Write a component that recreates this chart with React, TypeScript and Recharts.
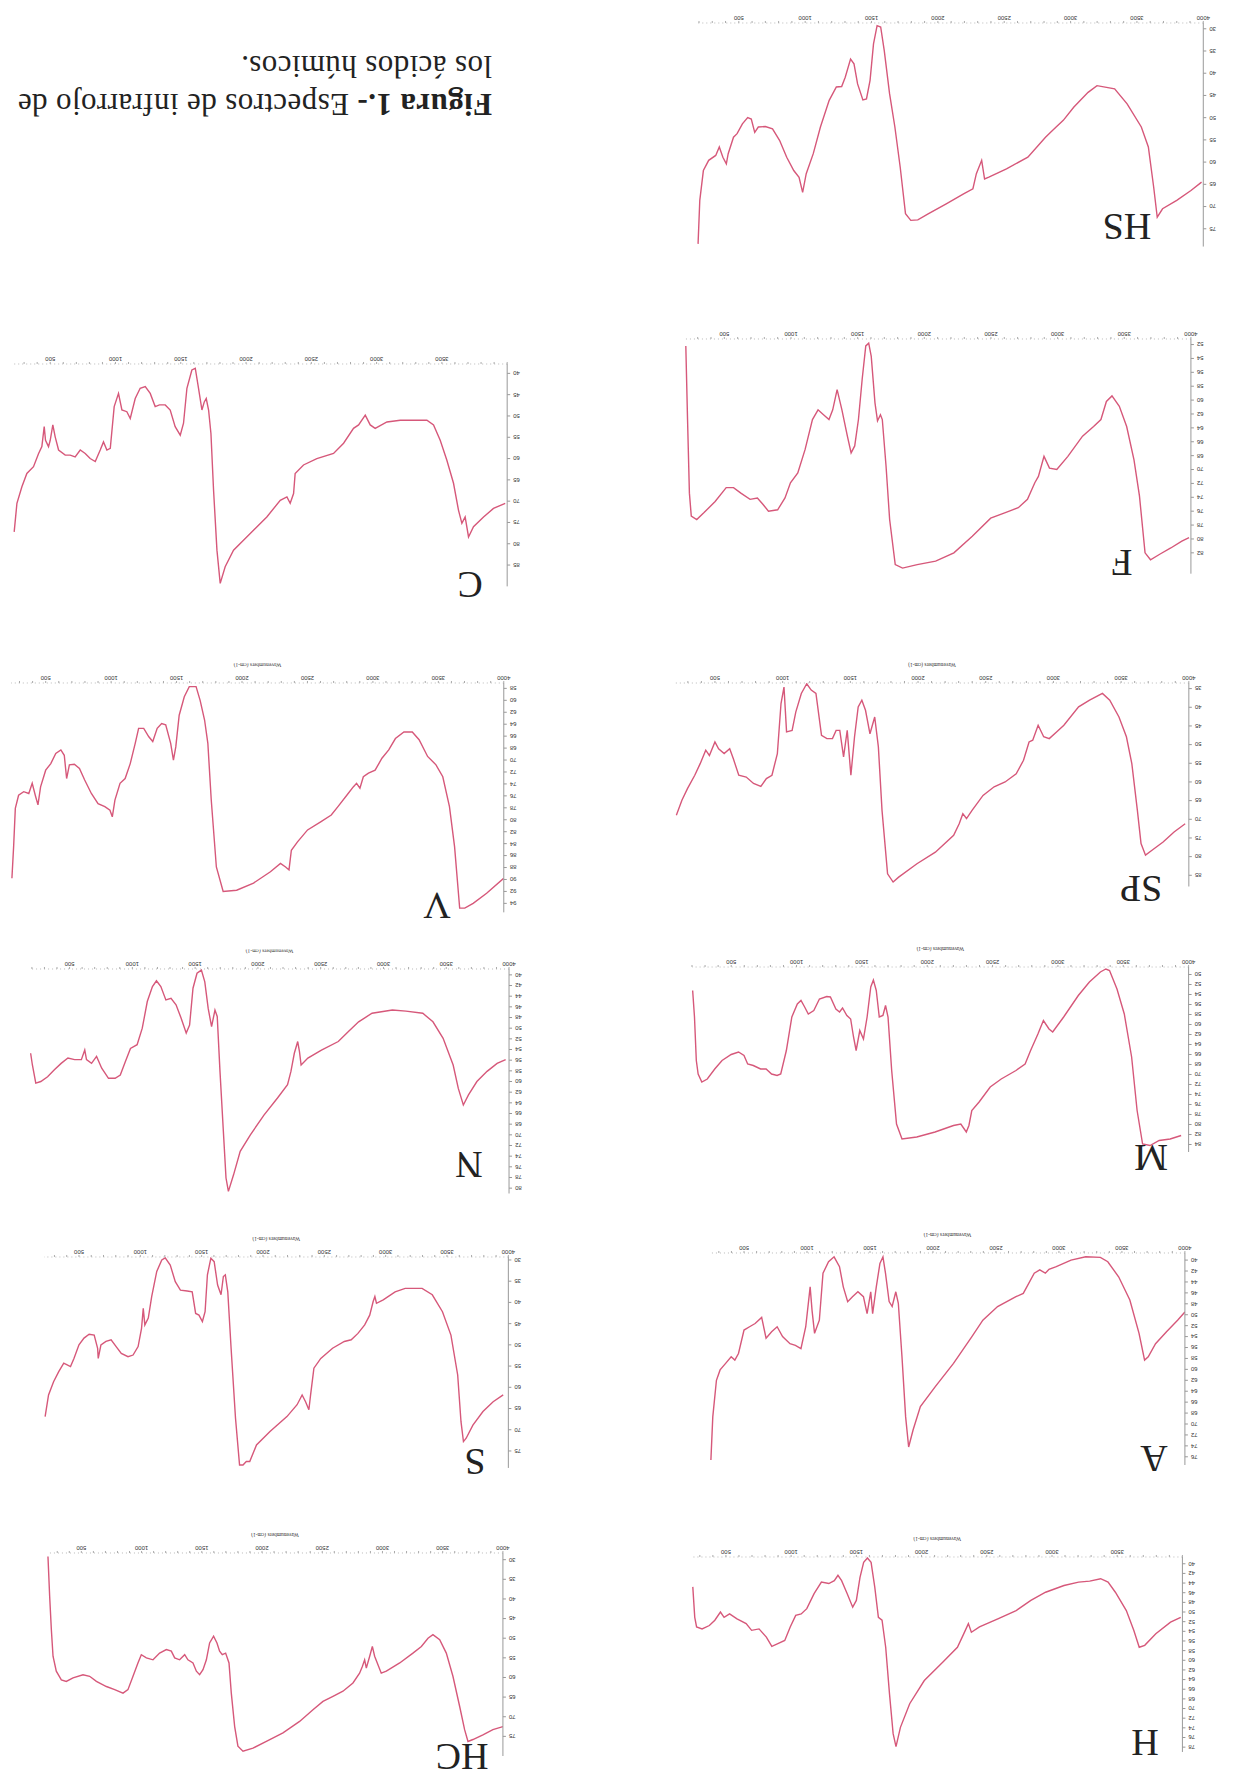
import React from 'react';
import { LineChart, Line, XAxis, YAxis } from 'recharts';

// IR spectra of humic acids (the scanned page is upside down, so every panel is rotated 180deg)
const RED = '#d6587a';

const xLabelTicks = [500, 1000, 1500, 2000, 2500, 3000, 3500, 4000];
const xLabelTicksShort = [500, 1000, 1500, 2000, 2500, 3000, 3500];

const yTicksHS = [30, 35, 40, 45, 50, 55, 60, 65, 70, 75];
const yTicksF = [52, 54, 56, 58, 60, 62, 64, 66, 68, 70, 72, 74, 76, 78, 80, 82];
const yTicksSP = [35, 40, 45, 50, 55, 60, 65, 70, 75, 80, 85];
const yTicksM = [50, 52, 54, 56, 58, 60, 62, 64, 66, 68, 70, 72, 74, 76, 78, 80, 82, 84];
const yTicksA = [40, 42, 44, 46, 48, 50, 52, 54, 56, 58, 60, 62, 64, 66, 68, 70, 72, 74, 76];
const yTicksH = [40, 42, 44, 46, 48, 50, 52, 54, 56, 58, 60, 62, 64, 66, 68, 70, 72, 74, 76, 78];
const yTicksC = [40, 45, 50, 55, 60, 65, 70, 75, 80, 85];
const yTicksV = [58, 60, 62, 64, 66, 68, 70, 72, 74, 76, 78, 80, 82, 84, 86, 88, 90, 92, 94];
const yTicksN = [40, 42, 44, 46, 48, 50, 52, 54, 56, 58, 60, 62, 64, 66, 68, 70, 72, 74, 76, 78, 80];
const yTicksS = [30, 35, 40, 45, 50, 55, 60, 65, 70, 75];
const yTicksHC = [30, 35, 40, 45, 50, 55, 60, 65, 70, 75];

// [wavenumber cm-1, transmittance %]
const HS = [[193,78.4],[206,68.6],[233,61.9],[273,59.6],[326,58.5],[353,56.6],[380,58.9],[406,60.4],[420,58.1],[460,54.4],[487,53.6],[527,51.4],[567,50.0],[594,50.3],[620,53.3],[647,52.1],[700,52.0],[754,52.5],[807,55.1],[861,58.9],[914,61.9],[954,63.4],[981,66.8],[1008,62.6],[1061,58.1],[1115,52.1],[1181,46.1],[1235,43.1],[1275,43.0],[1302,40.9],[1342,36.8],[1368,37.9],[1395,42.4],[1435,46.0],[1462,45.8],[1489,41.6],[1515,33.4],[1542,29.3],[1569,29.6],[1596,34.9],[1636,44.6],[1676,52.1],[1716,61.1],[1756,71.6],[1796,73.1],[1849,73.0],[1930,71.6],[2063,69.4],[2197,67.1],[2264,66.0],[2290,62.6],[2330,59.6],[2352,63.8],[2384,63.4],[2517,61.5],[2678,58.9],[2811,54.4],[2838,53.6],[2891,52.1],[2945,50.6],[3025,47.6],[3132,44.3],[3199,42.8],[3332,43.5],[3426,46.9],[3533,52.1],[3586,56.6],[3626,65.6],[3653,72.4],[3693,70.5],[3800,68.6],[3907,66.4],[3987,64.5]];

const F = [[211,52.2],[224,62.8],[238,73.4],[252,76.7],[293,77.2],[348,76.2],[431,74.6],[514,72.6],[569,72.6],[624,73.4],[693,74.3],[748,74.1],[789,75.0],[831,76.0],[900,75.8],[955,74.1],[996,71.9],[1051,70.5],[1106,67.1],[1161,62.8],[1203,61.4],[1244,62.1],[1285,62.8],[1313,61.4],[1346,58.5],[1382,61.4],[1423,65.2],[1451,67.6],[1478,66.6],[1506,62.8],[1534,57.0],[1561,52.2],[1583,51.8],[1602,53.7],[1630,60.4],[1649,63.0],[1671,62.1],[1685,62.8],[1713,69.5],[1740,77.2],[1782,83.7],[1837,84.2],[1947,83.7],[2085,83.2],[2222,82.0],[2360,79.6],[2498,77.0],[2608,76.2],[2705,75.5],[2774,74.3],[2829,71.9],[2856,71.0],[2898,68.1],[2939,69.8],[2994,70.0],[3077,68.1],[3187,65.2],[3270,63.8],[3325,62.8],[3366,60.2],[3408,59.4],[3463,60.9],[3518,63.8],[3573,68.6],[3614,73.8],[3656,82.0],[3697,83.0],[3766,82.2],[3849,81.3],[3932,80.3],[3986,79.8]];

const SP = [[215,68.9],[256,64.9],[297,61.8],[351,58.2],[391,55.1],[432,51.5],[459,52.9],[500,49.3],[527,51.1],[568,52.4],[609,51.1],[636,53.8],[676,58.2],[731,58.7],[785,60.4],[839,61.2],[880,59.1],[921,58.2],[961,52.4],[988,39.0],[1010,34.6],[1029,46.6],[1070,46.2],[1097,41.3],[1138,36.3],[1178,33.7],[1211,35.4],[1246,36.3],[1287,47.5],[1327,48.4],[1368,48.4],[1395,46.2],[1422,46.2],[1450,53.3],[1477,46.2],[1504,58.2],[1531,47.9],[1558,39.9],[1585,38.1],[1612,40.8],[1645,47.1],[1680,42.6],[1707,50.6],[1734,67.6],[1775,84.6],[1816,86.8],[1857,85.5],[1992,81.9],[2128,78.8],[2263,74.3],[2304,71.2],[2331,68.5],[2358,69.8],[2399,67.6],[2480,63.6],[2562,61.3],[2643,60.0],[2725,57.8],[2779,54.2],[2820,49.3],[2847,48.8],[2887,44.8],[2928,47.9],[2969,48.4],[3023,46.6],[3077,44.8],[3186,39.9],[3267,38.1],[3362,36.3],[3416,38.1],[3484,42.6],[3539,47.9],[3579,55.1],[3620,67.6],[3647,76.5],[3680,79.6],[3728,78.3],[3810,76.1],[3891,73.4],[3973,71.2]];

const M = [[205,53.2],[219,58.5],[233,67.2],[247,69.9],[275,71.5],[317,70.9],[374,68.9],[430,67.2],[500,66.0],[556,65.5],[598,66.2],[626,67.9],[669,68.2],[725,68.9],[767,68.9],[809,69.9],[851,70.2],[879,69.9],[922,65.2],[964,58.5],[1006,55.9],[1034,55.2],[1062,56.5],[1090,57.9],[1132,57.2],[1175,54.9],[1231,54.4],[1259,54.5],[1301,56.9],[1329,57.5],[1352,56.7],[1385,58.2],[1414,58.9],[1436,62.5],[1456,65.2],[1484,61.2],[1512,62.9],[1540,58.5],[1568,52.5],[1588,51.1],[1610,53.2],[1633,58.5],[1661,58.2],[1681,56.2],[1700,58.5],[1728,69.2],[1765,79.9],[1807,82.9],[1920,82.5],[2060,81.5],[2201,80.2],[2257,79.9],[2299,81.5],[2319,80.2],[2341,77.2],[2397,75.5],[2482,72.5],[2566,70.9],[2679,69.2],[2749,67.9],[2791,65.2],[2847,61.9],[2889,59.2],[2932,60.9],[2960,61.5],[3044,58.5],[3156,54.2],[3241,51.5],[3325,49.5],[3367,48.9],[3395,49.2],[3452,52.9],[3508,57.9],[3564,66.5],[3606,77.2],[3648,83.9],[3705,84.2],[3775,83.2],[3859,82.9],[3943,82.2]];

const A = [[237,76.6],[252,68.7],[281,62.0],[310,60.1],[354,58.9],[398,57.7],[427,58.3],[456,57.1],[500,52.8],[544,52.2],[588,51.6],[640,50.5],[675,54.3],[719,53.1],[763,52.2],[806,54.0],[865,55.3],[908,55.6],[952,56.2],[990,52.2],[1025,44.9],[1040,49.2],[1060,53.4],[1098,51.0],[1127,42.4],[1171,40.3],[1215,39.4],[1258,41.2],[1288,44.9],[1323,47.6],[1361,46.7],[1404,45.8],[1448,46.7],[1477,49.8],[1506,45.8],[1521,49.8],[1550,44.9],[1579,40.6],[1603,39.4],[1623,42.4],[1652,47.6],[1676,48.5],[1705,45.8],[1725,47.9],[1754,57.7],[1783,68.7],[1807,74.2],[1842,71.1],[1900,66.8],[2017,63.2],[2163,58.9],[2309,54.0],[2396,51.0],[2513,48.5],[2659,46.7],[2717,46.1],[2804,42.4],[2848,41.8],[2892,42.4],[2921,41.7],[2979,41.2],[3096,40.0],[3213,39.4],[3329,39.5],[3388,40.3],[3475,43.1],[3563,47.3],[3636,53.4],[3680,58.3],[3709,57.7],[3767,55.3],[3854,53.1],[3942,51.0],[4000,49.5]];

const H = [[246,44.8],[261,51.1],[275,53.1],[317,53.5],[373,52.8],[415,51.7],[458,50.0],[486,51.1],[528,50.4],[585,51.4],[655,52.4],[697,53.8],[754,53.5],[810,55.2],[852,57.1],[894,56.6],[951,55.9],[993,53.1],[1035,50.7],[1077,50.4],[1120,49.3],[1176,46.2],[1232,43.8],[1289,44.1],[1331,43.5],[1359,42.4],[1387,43.5],[1430,46.2],[1472,49.0],[1500,47.6],[1528,42.8],[1556,39.7],[1585,38.8],[1613,39.7],[1641,44.8],[1669,51.1],[1697,51.7],[1725,57.3],[1754,66.9],[1782,75.2],[1804,77.9],[1838,73.9],[1909,69.0],[2021,64.2],[2162,60.4],[2275,57.3],[2317,54.9],[2359,52.4],[2382,54.2],[2444,53.1],[2585,51.4],[2725,49.7],[2838,47.6],[2951,45.9],[3092,44.5],[3204,43.8],[3289,43.6],[3373,43.1],[3430,43.8],[3486,45.9],[3570,49.7],[3627,53.8],[3669,57.3],[3711,56.9],[3796,54.5],[3909,52.1],[3987,51.1]];

const C = [[224,77.2],[245,70.5],[283,66.6],[321,63.5],[372,61.9],[411,58.8],[436,57.2],[454,52.5],[464,55.7],[487,57.2],[500,55.7],[520,52.1],[538,54.9],[564,58.0],[615,59.2],[653,59.2],[691,59.6],[730,58.0],[768,58.8],[806,60.0],[845,60.7],[883,58.0],[908,56.1],[934,58.0],[960,57.6],[990,47.8],[1023,44.7],[1049,48.6],[1087,49.0],[1113,50.6],[1151,45.9],[1189,43.5],[1228,43.1],[1266,44.7],[1304,47.8],[1337,47.4],[1381,47.4],[1419,48.6],[1457,52.5],[1496,54.5],[1521,51.7],[1547,43.5],[1585,39.2],[1611,38.8],[1636,43.5],[1662,48.6],[1680,46.7],[1695,45.9],[1713,48.6],[1731,54.1],[1751,67.4],[1777,81.5],[1802,89.3],[1840,85.4],[1904,81.5],[2032,77.6],[2159,73.7],[2262,69.8],[2313,69.0],[2338,70.5],[2364,68.2],[2376,63.5],[2440,61.5],[2542,60.0],[2670,58.8],[2747,56.4],[2823,52.9],[2862,52.1],[2913,49.8],[2951,52.1],[2989,52.9],[3079,51.4],[3181,51.0],[3308,51.0],[3385,51.0],[3436,52.1],[3487,55.7],[3538,60.4],[3589,65.8],[3627,72.1],[3653,75.2],[3678,73.7],[3704,78.4],[3742,76.0],[3819,73.7],[3895,71.7],[3985,70.5]];

const V = [[242,89.8],[255,84.5],[268,78.1],[293,75.9],[332,75.3],[371,75.6],[397,73.9],[423,76.1],[441,77.5],[461,74.5],[500,71.7],[539,70.6],[577,68.9],[616,68.3],[642,69.2],[660,73.1],[681,70.8],[719,70.7],[758,71.4],[797,73.3],[849,75.6],[900,77.3],[952,77.8],[991,78.4],[1009,79.5],[1029,76.7],[1068,73.9],[1107,73.1],[1146,70.6],[1184,67.2],[1210,64.7],[1249,64.7],[1288,66.1],[1318,66.9],[1352,64.7],[1386,63.9],[1417,64.1],[1455,67.2],[1476,70.0],[1494,67.8],[1520,62.5],[1559,59.4],[1597,57.7],[1649,57.7],[1680,60.0],[1714,63.3],[1739,67.2],[1765,76.7],[1804,87.9],[1856,92.0],[1959,91.8],[2088,90.6],[2217,88.7],[2294,87.3],[2333,87.9],[2359,88.4],[2377,85.1],[2424,83.7],[2501,81.7],[2604,80.3],[2682,79.2],[2733,77.8],[2811,75.6],[2850,74.5],[2875,73.9],[2901,74.7],[2927,72.8],[2966,72.2],[3017,71.7],[3069,69.7],[3121,68.3],[3172,66.4],[3237,65.3],[3301,65.3],[3353,66.6],[3418,69.4],[3482,70.8],[3534,72.8],[3585,77.8],[3624,84.5],[3663,94.8],[3702,94.8],[3766,94.0],[3869,92.3],[3999,89.8]];

const N = [[190,54.7],[204,56.9],[231,60.3],[271,60.0],[325,59.1],[379,57.8],[433,56.6],[487,55.6],[540,55.9],[594,55.9],[621,54.1],[635,55.9],[675,56.6],[715,55.3],[756,57.5],[810,59.4],[863,59.4],[904,58.8],[944,56.3],[985,53.8],[1038,53.1],[1079,50.0],[1119,45.0],[1160,42.2],[1192,41.1],[1227,42.2],[1267,44.7],[1308,44.4],[1348,45.6],[1388,48.1],[1429,50.9],[1456,49.4],[1483,42.5],[1515,39.7],[1550,39.1],[1577,41.3],[1604,46.3],[1631,49.7],[1658,46.6],[1676,47.8],[1698,58.1],[1725,69.4],[1746,78.1],[1765,80.6],[1806,77.5],[1859,73.1],[1940,70.0],[2048,66.3],[2156,63.1],[2236,60.6],[2263,58.1],[2290,54.7],[2317,52.5],[2331,54.4],[2344,56.9],[2398,55.6],[2506,54.1],[2640,52.5],[2721,50.6],[2802,48.8],[2909,47.2],[3071,46.6],[3179,46.8],[3313,47.2],[3394,48.8],[3475,51.9],[3555,56.9],[3596,61.3],[3636,64.4],[3677,62.5],[3744,60.0],[3825,58.1],[3905,56.6],[3973,55.9]];

const S = [[224,66.9],[252,61.8],[293,58.7],[335,56.3],[376,54.3],[404,54.7],[431,55.1],[459,53.2],[500,50.0],[541,48.4],[583,47.5],[624,47.7],[652,50.8],[657,53.2],[679,50.0],[720,49.2],[762,48.8],[803,50.4],[845,52.0],[900,52.8],[941,52.4],[982,50.4],[1010,46.1],[1024,41.4],[1037,45.3],[1065,43.7],[1093,38.6],[1134,32.7],[1175,30.0],[1203,29.5],[1244,31.2],[1285,35.1],[1327,37.1],[1382,37.3],[1423,37.5],[1451,42.6],[1478,43.0],[1506,44.5],[1528,42.2],[1547,33.5],[1575,29.6],[1602,30.4],[1630,35.9],[1658,38.2],[1677,33.9],[1693,33.5],[1713,37.5],[1740,50.8],[1776,67.3],[1809,78.3],[1837,78.3],[1864,77.5],[1892,77.5],[1947,73.6],[2057,70.4],[2195,66.9],[2278,64.1],[2319,61.8],[2347,63.4],[2374,65.3],[2388,61.8],[2415,55.5],[2471,53.2],[2567,50.8],[2663,49.2],[2719,48.8],[2774,47.3],[2829,45.3],[2870,43.0],[2898,39.8],[2912,38.6],[2925,40.2],[2980,39.4],[3077,37.5],[3159,36.7],[3297,36.7],[3380,38.2],[3463,42.2],[3532,47.7],[3587,57.1],[3614,68.1],[3634,72.8],[3656,72.0],[3711,68.9],[3793,65.7],[3876,63.4],[3958,61.8]];

const HC = [[223,29.2],[237,39.3],[251,47.8],[265,54.6],[292,58.4],[334,60.6],[375,61.0],[431,60.1],[514,59.3],[569,59.7],[625,61.0],[708,62.3],[777,63.1],[846,64.0],[887,63.1],[929,59.7],[970,56.3],[998,54.2],[1040,55.0],[1095,55.5],[1150,53.8],[1206,52.9],[1247,53.3],[1275,55.0],[1316,55.5],[1358,54.2],[1385,55.5],[1427,56.3],[1455,58.4],[1482,59.3],[1510,58.0],[1538,55.5],[1565,51.2],[1598,49.5],[1626,51.2],[1648,53.3],[1670,54.2],[1698,53.8],[1726,56.3],[1745,64.0],[1773,72.5],[1800,77.5],[1842,78.8],[1925,78.0],[2036,76.3],[2174,74.1],[2312,71.2],[2423,68.2],[2506,66.1],[2589,64.8],[2672,63.5],[2755,61.4],[2810,58.9],[2833,57.2],[2852,55.5],[2866,57.6],[2894,54.6],[2916,52.1],[2935,54.6],[2990,58.9],[3032,58.4],[3143,56.3],[3253,53.8],[3323,52.1],[3378,50.0],[3419,49.1],[3475,50.4],[3530,53.8],[3585,59.7],[3641,67.4],[3682,73.3],[3710,76.3],[3751,75.8],[3834,74.6],[3917,73.3],[4000,72.5]];

type Pt = number[];

interface SpectrumProps {
  data: Pt[];
  xCal: number[]; // [w1, px1, w2, px2] in page pixels
  yCal: number[]; // [v1, py1, v2, py2] in page pixels
  xLo: number;
  yDomain: [number, number];
  yTicks: number[];
  xLabels: number[];
  axisLabel?: boolean;
}

const Spectrum: React.FC<SpectrumProps> = ({ data, xCal, yCal, xLo, yDomain, yTicks, xLabels, axisLabel }) => {
  const [w1, p1, w2, p2] = xCal;
  const [v1, q1, v2, q2] = yCal;
  const sx = (p2 - p1) / (w2 - w1);
  const sy = (q2 - q1) / (v2 - v1);
  const left = p1 + (xLo - w1) * sx;
  const right = p1 + (4000 - w1) * sx;
  const top = q1 + (yDomain[0] - v1) * sy;
  const bottom = q1 + (yDomain[1] - v1) * sy;
  const hX = axisLabel ? 20 : 12;
  const wY = 22;
  const mR = 2;
  const mT = 2;
  const width = right - left + mR + wY;
  const height = bottom - top + hX + mT;

  const minor: number[] = [];
  for (let t = Math.ceil(xLo / 100) * 100; t <= 4000; t += 100) minor.push(t);
  const rows = data.map(([w, v]) => ({ w, v }));

  return (
    <div style={{ position: 'absolute', left: left - mR, top: top - hX, width, height, transform: 'rotate(180deg)' }}>
      <LineChart width={width} height={height} data={rows} margin={{ top: mT, right: mR, left: 0, bottom: 0 }}>
        <XAxis
          type="number"
          dataKey="w"
          domain={[xLo, 4000]}
          reversed
          allowDataOverflow
          ticks={minor}
          interval={0}
          tickFormatter={(t: number) => (xLabels.includes(t) ? String(t) : '')}
          height={hX}
          tickSize={2}
          tickMargin={1}
          tick={{ fontSize: 6, fill: '#333', fontFamily: 'Arial' }}
          axisLine={{ stroke: '#bbb', strokeDasharray: '1 3' }}
          tickLine={{ stroke: '#aaa' }}
          label={axisLabel ? { value: 'Wavenumbers (cm-1)', position: 'insideBottom', offset: 0, fontSize: 5.5, fill: '#333' } : undefined}
        />
        <YAxis
          type="number"
          domain={yDomain}
          ticks={yTicks}
          interval={0}
          allowDataOverflow
          width={wY}
          tickSize={3}
          tickMargin={3}
          tick={{ fontSize: 6, fill: '#333', fontFamily: 'Arial' }}
          axisLine={{ stroke: '#999' }}
          tickLine={{ stroke: '#999' }}
        />
        <Line type="linear" dataKey="v" stroke={RED} strokeWidth={1.4} dot={false} isAnimationActive={false} />
      </LineChart>
    </div>
  );
};

const Tag: React.FC<{ x: number; y: number; text: string }> = ({ x, y, text }) => (
  <div
    style={{
      position: 'absolute', left: x - 50, top: y - 25, width: 100, height: 50,
      display: 'flex', alignItems: 'center', justifyContent: 'center',
      fontFamily: '"Liberation Serif", serif', fontSize: 38, lineHeight: 1, color: '#222',
      transform: 'rotate(180deg)',
    }}
  >
    {text}
  </div>
);

export default function App() {
  return (
    <div style={{ position: 'absolute', left: 0, top: 0, width: 1236, height: 1792, background: '#fff', overflow: 'hidden' }}>
      {/* caption */}
      <div
        style={{
          position: 'absolute', left: 0, top: 40, width: 500, height: 85, boxSizing: 'border-box',
          paddingLeft: 8, paddingTop: 2, fontFamily: '"Liberation Serif", serif', fontSize: 31, lineHeight: '38px',
          letterSpacing: 0.4, color: '#222', transform: 'rotate(180deg)', whiteSpace: 'nowrap',
        }}
      >
        <div><b>Figura 1.-</b> Espectros de infrarrojo de</div>
        <div>los ácidos húmicos.</div>
      </div>

      {/* right column */}
      <Spectrum data={HS} xCal={[500, 738.5, 4000, 1203]} yCal={[30, 28.3, 75, 228.3]} xLo={185} yDomain={[28.7, 79]} yTicks={yTicksHS} xLabels={xLabelTicks} />
      <Spectrum data={F} xCal={[500, 724.3, 4000, 1190.9]} yCal={[52, 345, 82, 553.3]} xLo={205} yDomain={[51.2, 85]} yTicks={yTicksF} xLabels={xLabelTicks} />
      <Spectrum data={SP} xCal={[500, 715.1, 4000, 1189]} yCal={[35, 688.3, 85, 875]} xLo={205} yDomain={[33.5, 88]} yTicks={yTicksSP} xLabels={xLabelTicks} axisLabel />
      <Spectrum data={M} xCal={[500, 731.6, 4000, 1189]} yCal={[50, 974, 84, 1144]} xLo={200} yDomain={[48.5, 85.5]} yTicks={yTicksM} xLabels={xLabelTicks} axisLabel />
      <Spectrum data={A} xCal={[500, 744.5, 4000, 1185.4]} yCal={[40, 1260, 76, 1456.7]} xLo={230} yDomain={[38.7, 77.5]} yTicks={yTicksA} xLabels={xLabelTicks} axisLabel />
      <Spectrum data={H} xCal={[500, 726.1, 3500, 1117.4]} yCal={[40, 1563.3, 78, 1746.7]} xLo={240} yDomain={[38.6, 79]} yTicks={yTicksH} xLabels={xLabelTicksShort} axisLabel />

      {/* left column */}
      <Spectrum data={C} xCal={[500, 50, 3500, 441.7]} yCal={[40, 373.3, 85, 565]} xLo={215} yDomain={[37.8, 90]} yTicks={yTicksC} xLabels={xLabelTicksShort} />
      <Spectrum data={V} xCal={[500, 45.6, 4000, 503.7]} yCal={[58, 688.3, 94, 903.3]} xLo={235} yDomain={[57.1, 95.5]} yTicks={yTicksV} xLabels={xLabelTicks} axisLabel />
      <Spectrum data={N} xCal={[500, 69.3, 4000, 508.8]} yCal={[40, 975, 80, 1188.3]} xLo={185} yDomain={[38.9, 81]} yTicks={yTicksN} xLabels={xLabelTicks} axisLabel />
      <Spectrum data={S} xCal={[500, 79.4, 4000, 508.8]} yCal={[30, 1260, 75, 1451]} xLo={215} yDomain={[29.3, 79]} yTicks={yTicksS} xLabels={xLabelTicks} axisLabel />
      <Spectrum data={HC} xCal={[500, 81.7, 4000, 503.3]} yCal={[30, 1560, 75, 1736.7]} xLo={215} yDomain={[28.3, 80]} yTicks={yTicksHC} xLabels={xLabelTicks} axisLabel />

      <Tag x={1127} y={227} text="HS" />
      <Tag x={1122} y={563} text="F" />
      <Tag x={1141} y={889} text="SP" />
      <Tag x={1151} y={1158} text="M" />
      <Tag x={1154} y={1459} text="A" />
      <Tag x={1145} y={1743} text="H" />
      <Tag x={470} y={585} text="C" />
      <Tag x={437} y={906} text="V" />
      <Tag x={469} y={1165} text="N" />
      <Tag x={475} y={1462} text="S" />
      <Tag x={462} y={1757} text="HC" />
    </div>
  );
}
